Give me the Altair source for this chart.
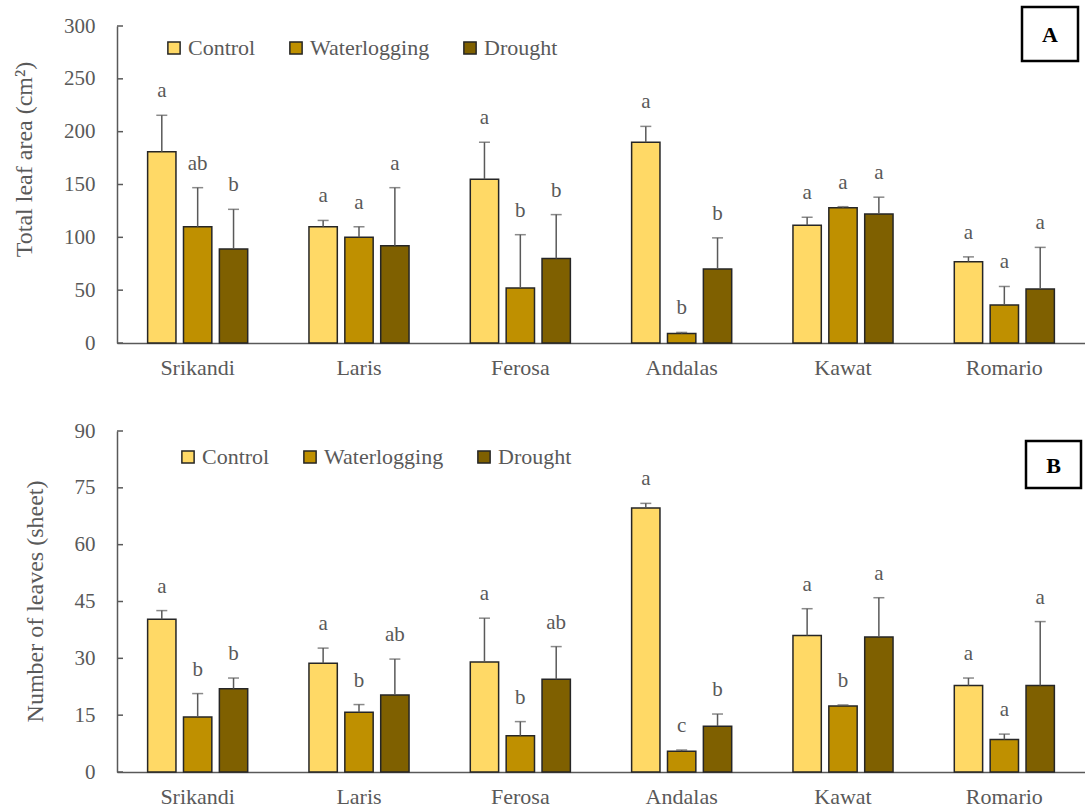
import altair as alt
import pandas as pd

# ---------------- data ----------------
cultivars = ["Srikandi", "Laris", "Ferosa", "Andalas", "Kawat", "Romario"]
treatments = ["Control", "Waterlogging", "Drought"]
colors = ["#FFD966", "#BF9000", "#7F6000"]

# Panel A: total leaf area (cm2), means and error (SD) per treatment
area_control = [181, 110, 155, 190, 111.5, 77]
area_control_err = [34.5, 6, 35, 15, 7.5, 4.5]
area_water = [110, 100, 52, 9, 128, 36]
area_water_err = [37, 10, 50.5, 1, 1, 17.5]
area_drought = [89, 92, 80, 70, 122, 51]
area_drought_err = [37.5, 55, 41.5, 29.5, 16, 39.5]
area_control_let = ["a", "a", "a", "a", "a", "a"]
area_water_let = ["ab", "a", "b", "b", "a", "a"]
area_drought_let = ["b", "a", "b", "b", "a", "a"]
area_ticks = [0, 50, 100, 150, 200, 250, 300]

# Panel B: number of leaves (sheet)
leaf_control = [40.3, 28.7, 29.0, 69.7, 36.0, 22.8]
leaf_control_err = [2.3, 4.0, 11.6, 1.2, 7.1, 2.0]
leaf_water = [14.5, 15.8, 9.6, 5.5, 17.4, 8.6]
leaf_water_err = [6.2, 2.0, 3.7, 0.3, 0.3, 1.4]
leaf_drought = [22.0, 20.3, 24.5, 12.1, 35.6, 22.8]
leaf_drought_err = [2.8, 9.5, 8.6, 3.2, 10.4, 16.9]
leaf_control_let = ["a", "a", "a", "a", "a", "a"]
leaf_water_let = ["b", "b", "b", "c", "b", "a"]
leaf_drought_let = ["b", "ab", "ab", "b", "a", "a"]
leaf_ticks = [0, 15, 30, 45, 60, 75, 90]

FONT = "Times New Roman"
GRAY = "#595959"
W = 968


def build_df(means, errs, lets):
    rows = []
    for t, m_list, e_list, l_list in zip(treatments, means, errs, lets):
        for c, m, e, l in zip(cultivars, m_list, e_list, l_list):
            rows.append({"cultivar": c, "treatment": t, "mean": m, "top": m + e, "letter": l})
    return pd.DataFrame(rows)


df_a = build_df([area_control, area_water, area_drought],
                [area_control_err, area_water_err, area_drought_err],
                [area_control_let, area_water_let, area_drought_let])
df_b = build_df([leaf_control, leaf_water, leaf_drought],
                [leaf_control_err, leaf_water_err, leaf_drought_err],
                [leaf_control_let, leaf_water_let, leaf_drought_let])


def panel(df, ticks, ytitle, height, title_x, title_y, leg_x, leg_y, tag, box):
    ymax = ticks[-1]
    yscale = alt.Scale(domain=[0, ymax], nice=False, zero=True)
    yaxis = alt.Axis(values=ticks, title=ytitle, titleFont=FONT, titleFontSize=24,
                     titleFontWeight="normal", titleColor=GRAY, titleX=title_x, titleY=title_y,
                     titleAngle=-90, titleAlign="center", titleBaseline="middle",
                     labelFont=FONT, labelFontWeight="normal", labelFontSize=21,
                     labelColor=GRAY, labelPadding=22,
                     ticks=False, grid=False, domainColor=GRAY, domainWidth=1.5)
    xenc = alt.X("cultivar:N", sort=cultivars,
                 scale=alt.Scale(paddingInner=0.333, paddingOuter=0.1665),
                 axis=alt.Axis(title=None, labelAngle=0, labelFont=FONT, labelFontWeight="normal",
                               labelFontSize=22, labelColor=GRAY, labelPadding=14, ticks=False,
                               grid=False, domainColor=GRAY, domainWidth=1.5))
    xoff = alt.XOffset("treatment:N", sort=treatments,
                       scale=alt.Scale(paddingInner=0.21, paddingOuter=0.105))
    base = alt.Chart(df).encode(x=xenc, xOffset=xoff)

    bars = base.mark_bar(stroke="#262626", strokeWidth=1.5).encode(
        y=alt.Y("mean:Q", scale=yscale, axis=yaxis),
        color=alt.Color("treatment:N", sort=treatments,
                        scale=alt.Scale(domain=treatments, range=colors),
                        legend=alt.Legend(orient="none", legendX=leg_x, legendY=leg_y,
                                          direction="horizontal", title=None,
                                          labelFont=FONT, labelFontWeight="normal",
                                          labelFontSize=22, labelColor=GRAY,
                                          symbolType="square", symbolSize=150,
                                          symbolStrokeColor="#262626", symbolStrokeWidth=1.5,
                                          symbolOpacity=1, columnPadding=29, labelOffset=3,
                                          padding=0)),
    )
    rules = base.mark_rule(color=GRAY, strokeWidth=1.5).encode(
        y=alt.Y("mean:Q", scale=yscale, axis=yaxis), y2="top:Q")
    caps = base.mark_tick(color=GRAY, thickness=1.5, size=11, orient="horizontal").encode(
        y=alt.Y("top:Q", scale=yscale, axis=yaxis))
    letters = base.mark_text(font=FONT, fontWeight="normal", fontSize=21, color=GRAY,
                             baseline="alphabetic", dy=-18).encode(
        y=alt.Y("top:Q", scale=yscale, axis=yaxis), text="letter:N")

    tick_df = pd.DataFrame({"v": ticks})
    inner_ticks = alt.Chart(tick_df).mark_rule(color=GRAY, strokeWidth=1.5).encode(
        y=alt.Y("v:Q", scale=yscale, axis=yaxis), x=alt.value(0), x2=alt.value(6))

    tag_df = pd.DataFrame({"label": [tag]})
    tag_box = alt.Chart(tag_df).mark_rect(fill="white", stroke="black", strokeWidth=2.5).encode(
        x=alt.value(box[0]), x2=alt.value(box[1]), y=alt.value(box[2]), y2=alt.value(box[3]))
    tag_text = alt.Chart(tag_df).mark_text(font=FONT, fontSize=22, fontWeight="bold",
                                           color="black", baseline="middle").encode(
        x=alt.value((box[0] + box[1]) / 2), y=alt.value((box[2] + box[3]) / 2 + 1),
        text="label:N")

    return alt.layer(bars, rules, caps, letters, inner_ticks, tag_box, tag_text).properties(
        width=W, height=height)


top = panel(df_a, area_ticks, "Total leaf area  (cm²)", 317, -93, 133, 46, 11, "A",
            (905, 961, -19, 35))
bottom = panel(df_b, leaf_ticks, "Number of leaves (sheet)", 341, -82, 170, 60, 15, "B",
               (909, 964, 10, 57))

chart = alt.vconcat(top, bottom, spacing=42).resolve_scale(color="independent").resolve_legend(
    color="independent").properties(
    padding={"left": 11, "top": 5, "right": 0, "bottom": 0}, background="white"
).configure(font=FONT).configure_view(stroke=None).configure_axis(
    labelFont=FONT, titleFont=FONT).configure_legend(labelFont=FONT).configure_text(font=FONT)

chart.save("out.html", embed_options={"renderer": "svg", "actions": False})
